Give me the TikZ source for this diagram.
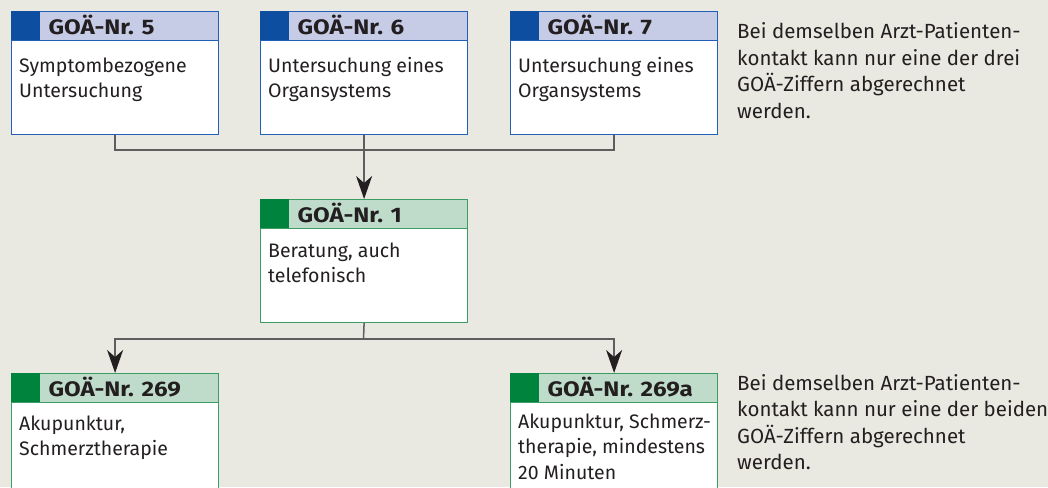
\documentclass[tikz,border=0pt]{standalone}
\usepackage{fontspec}
\setmainfont{Fira Sans}
\newfontfamily\titlefont[FakeStretch=1.15]{Fira Sans}
\usetikzlibrary{arrows.meta}
\definecolor{bg}{HTML}{EAE9E1}
\definecolor{ink}{HTML}{231F20}
\definecolor{connc}{HTML}{5E5E5E}
\definecolor{bluesq}{HTML}{0D4EA0}
\definecolor{bluehead}{HTML}{C6CBE6}
\definecolor{blueborder}{HTML}{2160B8}
\definecolor{greensq}{HTML}{00843D}
\definecolor{greenhead}{HTML}{BFDCCB}
\definecolor{greenborder}{HTML}{3C9D64}
\newcommand\goabox[7]{%
  \node[gbox, draw=#4border] (#1) at (#2,#3) {};
  \node[ghead, fill=#4head, draw=#4border] (#1h) at (#2,#3) {};
  \node[gsq, fill=#4sq] (#1s) at (#2,#3) {};
  \node[gtitle] (#1t) at ([shift={(8pt,6pt)}]#1s.south east) {#5};
  \node[gbody] (#1b) at ([shift={(8pt,-#7pt)}]#1h.south west) {\begin{tabular}[t]{@{}l@{}}#6\end{tabular}};
}
\begin{document}
\begin{tikzpicture}[x=1pt,y=-1pt,
  gbox/.style={fill=white, line width=1.2pt, minimum width=207pt, minimum height=123pt, anchor=north west, inner sep=0pt},
  ghead/.style={line width=1.2pt, minimum width=207pt, minimum height=29pt, anchor=north west, inner sep=0pt},
  gsq/.style={minimum width=29pt, minimum height=29pt, anchor=north west, inner sep=0pt},
  gtitle/.style={anchor=base west, inner sep=0pt, text=ink, font=\titlefont\fontsize{21}{24}\selectfont\bfseries},
  gbody/.style={anchor=base west, inner sep=0pt, text=ink, font=\fontsize{19.5}{25.5}\selectfont},
  note/.style={anchor=base west, inner sep=0pt, text=ink, font=\fontsize{20.5}{26.5}\selectfont},
  conn/.style={draw=connc, line width=1.5pt},
  arr/.style={conn, -{Stealth[length=23pt, width=16pt, inset=7pt, color=ink]}}
]
\fill[bg] (0,0) rectangle (1048,487);
\useasboundingbox (0,0) rectangle (1048,487);
\clip (0,0) rectangle (1048,487);

\goabox{b5}{11}{11}{blue}{GOÄ-Nr. 5}{Symptombezogene\\Untersuchung}{31}
\goabox{b6}{260}{11}{blue}{GOÄ-Nr. 6}{Untersuchung eines\\Organsystems}{31}
\goabox{b7}{510}{11}{blue}{GOÄ-Nr. 7}{Untersuchung eines\\Organsystems}{31}
\goabox{b1}{260}{199}{green}{GOÄ-Nr. 1}{Beratung, auch\\telefonisch}{28}
\goabox{b269}{11}{373}{green}{GOÄ-Nr. 269}{Akupunktur,\\Schmerztherapie}{27}
\goabox{b269a}{510}{373}{green}{GOÄ-Nr. 269a}{Akupunktur, Schmerz-\\therapie, mindestens\\20 Minuten}{25}

\node[note] (n1) at (737,38.5) {\begin{tabular}[t]{@{}l@{}}Bei demselben Arzt-Patienten-\\kontakt kann nur eine der drei\\GOÄ-Ziffern abgerechnet\\werden.\end{tabular}};
\node[note] (n2) at (737,390) {\begin{tabular}[t]{@{}l@{}}Bei demselben Arzt-Patienten-\\kontakt kann nur eine der beiden\\GOÄ-Ziffern abgerechnet\\werden.\end{tabular}};

\coordinate (ja) at (363.5,150);
\coordinate (jb) at (363.5,339);
\draw[conn] (b5.south) |- (ja) -| (b7.south);
\draw[arr] (b6.south) -- (b1.north);
\draw[conn] (b1.south) -- (jb);
\draw[arr] (jb) -| (b269.north);
\draw[arr] (jb) -| (b269a.north);
\end{tikzpicture}
\end{document}
